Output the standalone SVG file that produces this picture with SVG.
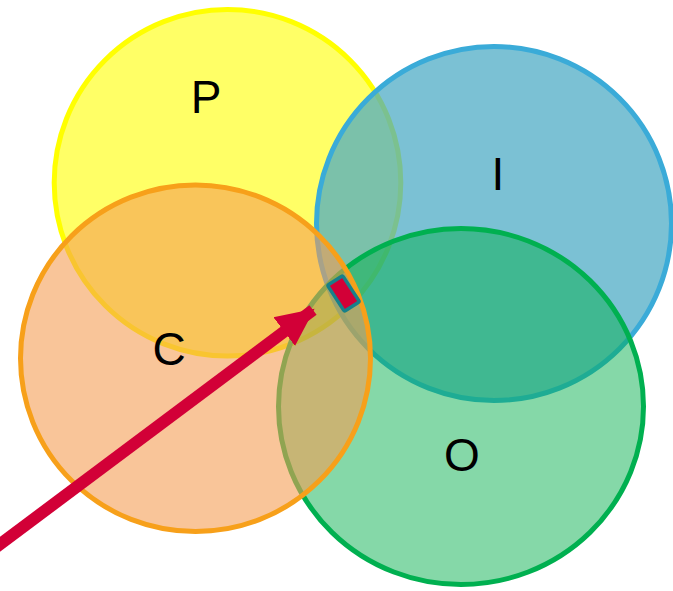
<svg xmlns="http://www.w3.org/2000/svg" width="673" height="591" viewBox="0 0 673 591">
<defs>
<style>
.circ{stroke-width:5}
.lbl{font-family:"Liberation Sans",Arial,sans-serif;font-size:46px;fill:#000;text-anchor:middle}
</style>
<marker id="ah" markerUnits="userSpaceOnUse" markerWidth="40" markerHeight="40" viewBox="0 0 40 40" refX="36" refY="20" orient="auto">
<path d="M0,2 L38,20 L0,38 Z" fill="#d20037"/>
</marker>
</defs>
<rect width="673" height="591" fill="#fff"/>
<g id="P">
<ellipse class="circ" cx="227.5" cy="182.8" rx="173.3" ry="173.3" fill="#ffff00" fill-opacity="0.6" stroke="#ffff00"/>
<text class="lbl" x="206" y="113">P</text>
</g>
<g id="I">
<ellipse class="circ" cx="494" cy="223.5" rx="177.5" ry="177" fill="#4aaac4" fill-opacity="0.73" stroke="#3aabd8"/>
<text class="lbl" x="498" y="190">I</text>
</g>
<g id="O">
<ellipse class="circ" cx="461" cy="406.5" rx="182.5" ry="178" fill="#00ae4a" fill-opacity="0.48" stroke="#00b050"/>
<text class="lbl" x="462" y="471">O</text>
</g>
<g id="C">
<ellipse class="circ" cx="195.5" cy="358.3" rx="175" ry="173.3" fill="#f59d52" fill-opacity="0.59" stroke="#f7a01a"/>
<text class="lbl" x="169" y="365">C</text>
</g>
<g id="marker-node">
<rect x="-9" y="-15.5" width="18" height="31" rx="1.5" transform="translate(343.5 293.5) rotate(-33)" fill="#d20037" stroke="#17808a" stroke-width="3.5"/>
</g>
<g id="connectors">
<line x1="-5" y1="548" x2="313" y2="310" stroke="#d20037" stroke-width="12" marker-end="url(#ah)"/>
</g>
</svg>
